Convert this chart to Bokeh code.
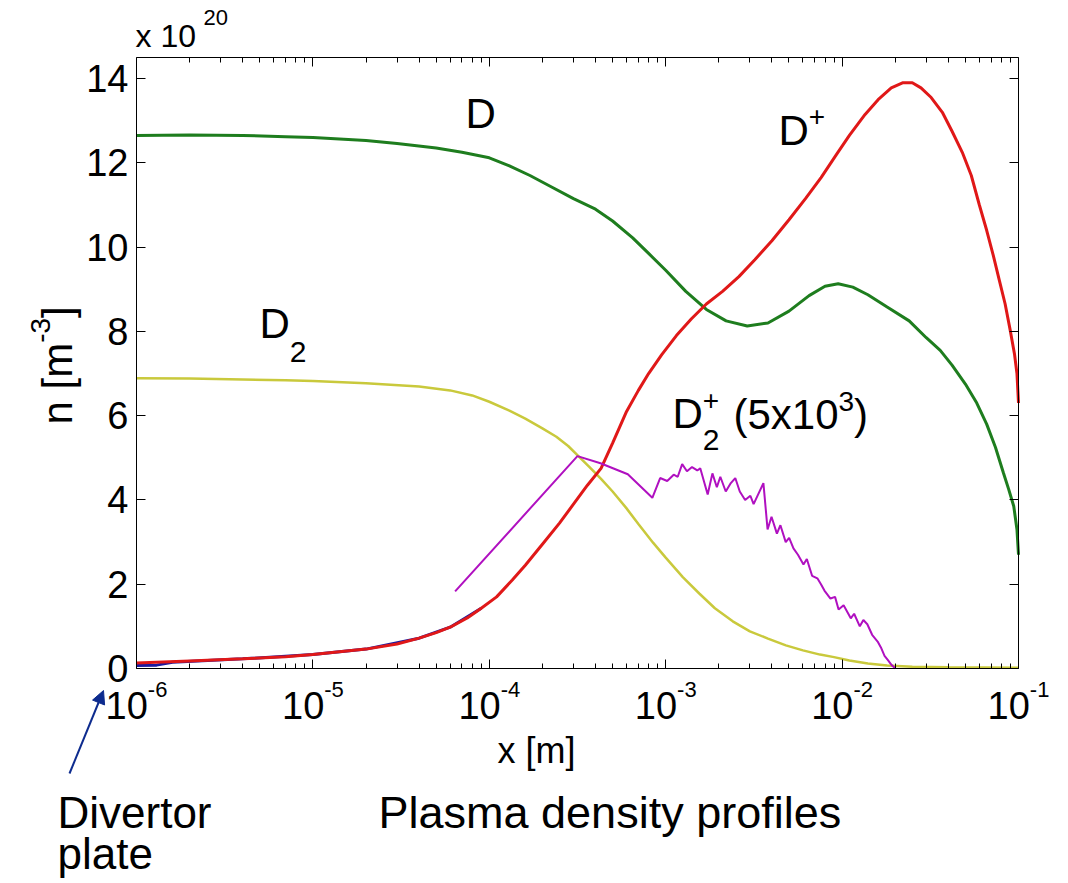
import math
from bokeh.plotting import figure
from bokeh.models import (FixedTicker, LogAxis, LinearAxis, Label, Arrow,
                          NormalHead, CustomJSTickFormatter)
from bokeh.embed import file_html
from bokeh.resources import INLINE

# ---------------- data (x in m, n in 1e20 m^-3) ----------------
d_x = [1e-6, 2e-6, 4e-6, 7e-6, 1e-5, 2e-5, 3e-5, 5e-5, 7e-5, 1e-4, 1.3e-4, 1.7e-4,
       2.2e-4, 3e-4, 4e-4, 5e-4, 6.5e-4, 8e-4, 1e-3, 1.3e-3, 1.7e-3, 2.2e-3, 2.9e-3,
       3.8e-3, 5e-3, 6.5e-3, 8e-3, 9.5e-3, 1.15e-2, 1.4e-2, 1.8e-2, 2.4e-2, 3e-2,
       3.6e-2, 4.2e-2, 5e-2, 5.8e-2, 6.6e-2, 7.4e-2, 8.2e-2, 8.8e-2, 9.4e-2, 9.8e-2, 1e-1]
d_n = [12.65, 12.66, 12.65, 12.62, 12.60, 12.53, 12.46, 12.35, 12.25, 12.12, 11.93, 11.70,
       11.45, 11.15, 10.90, 10.62, 10.22, 9.85, 9.45, 8.95, 8.52, 8.25, 8.13,
       8.20, 8.48, 8.85, 9.07, 9.13, 9.05, 8.87, 8.58, 8.25, 7.85,
       7.55, 7.20, 6.75, 6.30, 5.80, 5.25, 4.65, 4.25, 3.85, 3.30, 2.70]

dp_x = [1e-6, 2e-6, 4e-6, 7e-6, 1e-5, 2e-5, 3e-5, 4e-5, 5e-5, 6e-5, 7.5e-5, 9e-5,
        1.1e-4, 1.35e-4, 1.6e-4, 2e-4, 2.5e-4, 3e-4, 3.6e-4, 4.3e-4, 5e-4, 6e-4,
        7e-4, 8e-4, 9.5e-4, 1.15e-3, 1.4e-3, 1.7e-3, 2.1e-3, 2.6e-3, 3.2e-3, 4e-3,
        5e-3, 6.2e-3, 7.6e-3, 9.3e-3, 1.1e-2, 1.35e-2, 1.6e-2, 1.9e-2, 2.2e-2, 2.5e-2,
        2.8e-2, 3.2e-2, 3.7e-2, 4.2e-2, 4.8e-2, 5.4e-2, 6e-2, 6.6e-2, 7.2e-2, 7.8e-2,
        8.4e-2, 9e-2, 9.5e-2, 9.8e-2, 1e-1]
dp_n = [0.13, 0.18, 0.23, 0.28, 0.33, 0.46, 0.58, 0.72, 0.85, 0.98, 1.20, 1.43,
        1.70, 2.10, 2.45, 2.95, 3.45, 3.90, 4.35, 4.75, 5.35, 6.10,
        6.60, 7.00, 7.45, 7.90, 8.30, 8.65, 8.95, 9.30, 9.70, 10.15,
        10.65, 11.15, 11.65, 12.20, 12.65, 13.15, 13.50, 13.78, 13.90, 13.90,
        13.78, 13.55, 13.20, 12.75, 12.25, 11.70, 11.00, 10.40, 9.80, 9.20,
        8.65, 8.00, 7.45, 7.00, 6.30]

e_x = [1e-6, 1.3e-6, 1.6e-6, 4e-6, 1e-5, 2e-5, 4e-5, 6e-5, 9e-5]
e_n = [0.07, 0.08, 0.15, 0.23, 0.33, 0.46, 0.72, 0.98, 1.43]

d2_x = [1e-6, 2e-6, 4e-6, 7e-6, 1e-5, 2e-5, 4e-5, 6e-5, 8e-5, 1e-4, 1.3e-4, 1.6e-4,
        2e-4, 2.4e-4, 2.8e-4, 3.2e-4, 3.7e-4, 4.3e-4, 5e-4, 6e-4, 7e-4, 8.5e-4,
        1e-3, 1.25e-3, 1.55e-3, 1.9e-3, 2.4e-3, 3e-3, 3.8e-3, 4.8e-3, 6e-3, 7.5e-3,
        9e-3, 1.1e-2, 1.4e-2, 1.8e-2, 2.5e-2, 4e-2, 1e-1]
d2_n = [6.89, 6.88, 6.86, 6.84, 6.82, 6.77, 6.69, 6.60, 6.48, 6.33, 6.12, 5.93,
        5.70, 5.50, 5.28, 5.04, 4.78, 4.50, 4.20, 3.80, 3.43, 2.98,
        2.63, 2.17, 1.78, 1.43, 1.12, 0.88, 0.71, 0.55, 0.43, 0.33,
        0.27, 0.19, 0.12, 0.07, 0.04, 0.03, 0.02]

d2p_x = [6.4e-5, 3.16e-4, 4.27e-4, 6.1e-4, 8.4e-4, 9.3e-4, 1.02e-3, 1.11e-3, 1.17e-3,
         1.24e-3, 1.32e-3, 1.41e-3, 1.51e-3, 1.57e-3, 1.73e-3, 1.84e-3, 1.95e-3,
         2.04e-3, 2.19e-3, 2.34e-3, 2.48e-3, 2.63e-3, 2.82e-3, 3.02e-3, 3.15e-3,
         3.58e-3, 3.78e-3, 3.98e-3, 4.27e-3, 4.47e-3, 4.79e-3, 5.01e-3, 5.30e-3,
         5.62e-3, 6.04e-3, 6.31e-3, 6.76e-3, 7.24e-3, 7.59e-3, 7.94e-3, 8.59e-3,
         9.12e-3, 9.55e-3, 1.02e-2, 1.12e-2, 1.17e-2, 1.26e-2, 1.32e-2, 1.39e-2,
         1.48e-2, 1.59e-2, 1.66e-2, 1.74e-2, 1.81e-2, 1.91e-2, 2.01e-2]
d2p_n = [1.83, 5.04, 4.87, 4.61, 4.05, 4.52, 4.45, 4.60, 4.55,
         4.85, 4.68, 4.78, 4.70, 4.75, 4.13, 4.63, 4.30,
         4.55, 4.20, 4.40, 4.52, 4.20, 4.00, 4.10, 3.90,
         4.40, 3.30, 3.60, 3.20, 3.40, 3.00, 3.10, 2.85,
         2.70, 2.47, 2.60, 2.20, 2.14, 2.00, 1.85, 1.66,
         1.70, 1.40, 1.50, 1.19, 1.30, 1.00, 1.15, 1.05,
         0.80, 0.64, 0.50, 0.30, 0.21, 0.08, 0.00]

y_ticks = [0, 2, 4, 6, 8, 10, 12, 14]
x_tick_exps = [-6, -5, -4, -3, -2, -1]

# ---------------- layout ----------------
FONT = "Liberation Sans"
W, H = 1068, 883
FL, FR, FT, FB = 136, 1018, 57, 668      # axes box in canvas pixels
X0, X1 = 1e-6, 1e-1                      # axes limits
Y0, Y1 = 0.0, 14.5
BL = 0.35                                # baseline correction (em)

LX0, LX1 = math.log10(X0), math.log10(X1)
PPD = (FR - FL) / (LX1 - LX0)            # pixels per decade
PPU = (FB - FT) / (Y1 - Y0)              # pixels per unit


def X(px):
    return 10 ** (LX0 + (px - FL) / PPD)


def Y(py):
    return Y0 + (FB - py) / PPU


# frame covers the whole canvas; axes are placed at the box edges
p = figure(width=W, height=H, x_axis_type="log",
           x_range=(X(0), X(W)), y_range=(Y(H), Y(0)),
           output_backend="svg", toolbar_location=None, title=None,
           min_border=0)
p.grid.visible = False
p.outline_line_color = None
p.background_fill_color = "white"
p.border_fill_color = "white"

major_x = [10.0 ** e for e in x_tick_exps]
minor_x = [k * 10.0 ** e for e in range(-6, -1) for k in range(2, 10)]
blank = CustomJSTickFormatter(code="return ''")


def style_axis(ax, minor=True):
    ax.axis_line_color = "black"
    ax.axis_line_width = 1
    ax.major_tick_line_color = "black"
    ax.minor_tick_line_color = "black"
    ax.major_tick_in = 9
    ax.major_tick_out = 0
    ax.minor_tick_in = 5 if minor else 0
    ax.minor_tick_out = 0


xb = p.xaxis[0]
xb.ticker = FixedTicker(ticks=major_x, minor_ticks=minor_x)
xb.formatter = blank
xb.fixed_location = Y0
xb.bounds = (X0, X1)
style_axis(xb)

xt = LogAxis(ticker=FixedTicker(ticks=major_x, minor_ticks=minor_x), formatter=blank,
             fixed_location=Y1, bounds=(X0, X1))
style_axis(xt)
p.add_layout(xt, "above")

yl = p.yaxis[0]
yl.ticker = FixedTicker(ticks=y_ticks, minor_ticks=[])
yl.fixed_location = X0
yl.bounds = (Y0, Y1)
style_axis(yl, minor=False)
yl.major_label_text_font = FONT
yl.major_label_text_font_size = "38px"
yl.major_label_text_color = "black"
yl.major_label_standoff = 8

yr = LinearAxis(ticker=FixedTicker(ticks=y_ticks, minor_ticks=[]), formatter=blank,
                fixed_location=X1, bounds=(Y0, Y1))
style_axis(yr, minor=False)
p.add_layout(yr, "right")

# ---------------- curves ----------------
p.line(d_x, d_n, line_color="#1e7d1e", line_width=3)
p.line(d2_x, d2_n, line_color="#c9c93c", line_width=2.5)
p.line(e_x, e_n, line_color="#1a1aa0", line_width=3)
p.line(dp_x, dp_n, line_color="#e01818", line_width=3)
p.line(d2p_x, d2p_n, line_color="#b010c0", line_width=2)


# ---------------- texts ----------------
def lab(text, px, py, size, angle=0.0, x_offset=0, x=None):
    if angle:
        xx = X(px - BL * size) if x is None else x
        yy = Y(py)
    else:
        xx = X(px) if x is None else x
        yy = Y(py - BL * size)
    p.add_layout(Label(x=xx, y=yy, x_offset=x_offset,
                       text=text, text_font=FONT,
                       text_font_size=f"{size}px", text_color="black",
                       text_align="left", text_baseline="alphabetic", angle=angle))


# x tick labels 10^e
TS, ES = 38, 22
for e in x_tick_exps:
    base_w = 1.112 * TS
    exp_w = (0.333 + 0.556 * len(str(-e))) * ES
    start = -(base_w + exp_w) / 2
    lab("10", 0, 718, TS, x=10.0 ** e, x_offset=start)
    lab(str(e), 0, 697, ES, x=10.0 ** e, x_offset=start + base_w)

# multiplier
lab("x 10", 135, 47, 32)
lab("20", 203, 25, 22)

# axis labels
lab("x [m]", 497, 763, 36)
YS, YSS = 42, 28
lab("n [m", 72, 424, YS, angle=math.pi / 2)
lab("-3", 50, 424 - 1.945 * YS, YSS, angle=math.pi / 2)
lab("]", 72, 424 - 1.945 * YS - 0.889 * YSS, YS, angle=math.pi / 2)

# curve annotations
AS, SS = 42, 28
lab("D", 465, 128, AS)
lab("D", 778, 145, AS)
lab("+", 778 + 0.722 * AS, 126, SS)
lab("D", 259, 338, AS)
lab("2", 259 + 0.722 * AS, 362, 30)
lab("D", 672, 428, AS)
lab("+", 672 + 0.722 * AS, 410, SS)
lab("2", 672 + 0.722 * AS, 450, 30)
lab("(5x10", 733, 429, AS)
lab("3", 733 + 2.5 * AS, 411, SS)
lab(")", 733 + 2.5 * AS + 0.556 * SS, 429, AS)

# bottom texts
lab("Divertor", 57, 827, 44)
lab("plate", 57, 868, 44)
lab("Plasma density profiles", 378, 828, 45)

NAVY = "#0d2b8e"
p.add_layout(Arrow(x_start=X(69), y_start=Y(773), x_end=X(103), y_end=Y(690),
                   line_color=NAVY, line_width=2,
                   end=NormalHead(size=13, fill_color=NAVY, line_color=NAVY)))

open("out.html", "w").write(file_html(p, INLINE))
